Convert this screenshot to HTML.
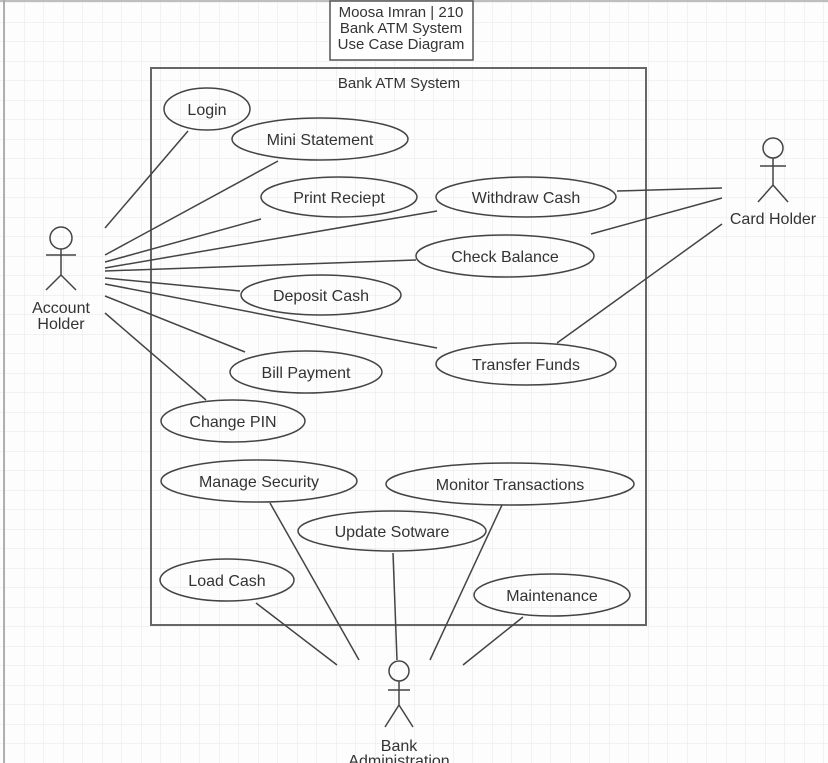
<!DOCTYPE html>
<html><head><meta charset="utf-8"><style>
html,body{margin:0;padding:0;background:#fff;}
svg{display:block;}
text{font-family:"Liberation Sans",sans-serif;fill:#333;}
</style></head><body>
<svg width="828" height="763" viewBox="0 0 828 763" xmlns="http://www.w3.org/2000/svg">
<defs>
<pattern id="g" width="19.5" height="19.5" patternUnits="userSpaceOnUse" x="5" y="3">
<path d="M19.5 0V19.5H0" fill="none" stroke="#e6e6e6" stroke-width="1"/>
</pattern>
</defs>
<rect width="828" height="763" fill="#fdfdfd"/>
<rect width="828" height="763" fill="url(#g)"/>
<line x1="4" y1="0" x2="4" y2="763" stroke="#999" stroke-width="1.5"/>
<line x1="0" y1="1" x2="828" y2="1" stroke="#aaa" stroke-width="1.5"/>

<rect x="330" y="1" width="143" height="59" fill="#fff" stroke="#555" stroke-width="1.5"/>
<g font-size="15" text-anchor="middle">
<text x="401" y="17">Moosa Imran | 210</text>
<text x="401" y="33">Bank ATM System</text>
<text x="401" y="49">Use Case Diagram</text>
</g>

<rect x="151" y="68" width="495" height="557" fill="none" stroke="#666" stroke-width="2"/>
<text x="399" y="88" font-size="15" text-anchor="middle">Bank ATM System</text>

<g stroke="#444" stroke-width="1.5" fill="none">
<line x1="105" y1="228" x2="188" y2="131"/>
<line x1="105" y1="255" x2="278" y2="161"/>
<line x1="105" y1="262" x2="261" y2="219"/>
<line x1="105" y1="268" x2="437" y2="211"/>
<line x1="105" y1="271" x2="416" y2="260"/>
<line x1="105" y1="278" x2="240" y2="291"/>
<line x1="105" y1="284" x2="437" y2="348"/>
<line x1="105" y1="296" x2="245" y2="352"/>
<line x1="105" y1="313" x2="206" y2="400"/>
<line x1="617" y1="191" x2="722" y2="188"/>
<line x1="591" y1="234" x2="722" y2="198"/>
<line x1="557" y1="343" x2="722" y2="224"/>
<line x1="256" y1="603" x2="337" y2="665"/>
<line x1="270" y1="503" x2="359" y2="660"/>
<line x1="393" y1="553" x2="397" y2="660"/>
<line x1="502" y1="505" x2="430" y2="660"/>
<line x1="523" y1="617" x2="463" y2="665"/>

<ellipse cx="207" cy="109" rx="43" ry="21"/>
<ellipse cx="320" cy="139" rx="88" ry="21"/>
<ellipse cx="339" cy="197" rx="78" ry="20"/>
<ellipse cx="526" cy="197" rx="90" ry="20"/>
<ellipse cx="505" cy="256" rx="89" ry="21"/>
<ellipse cx="321" cy="295" rx="80" ry="20"/>
<ellipse cx="526" cy="364" rx="90" ry="21"/>
<ellipse cx="306" cy="372" rx="76" ry="21"/>
<ellipse cx="233" cy="421" rx="72" ry="21"/>
<ellipse cx="259" cy="481" rx="98" ry="21"/>
<ellipse cx="510" cy="484" rx="124" ry="21"/>
<ellipse cx="392" cy="531" rx="94" ry="20"/>
<ellipse cx="227" cy="580" rx="67" ry="21"/>
<ellipse cx="552" cy="595" rx="78" ry="21"/>

<circle cx="61" cy="238" r="11"/>
<path d="M61 249V275M46 255H76M46 290L61 275L76 290"/>
<circle cx="773" cy="148" r="10"/>
<path d="M773 158V185M760 166H786M758 202L773 185L788 202"/>
<circle cx="399" cy="671" r="10"/>
<path d="M399 681V705M388 690H410M385 727L399 705L413 727"/>
</g>

<g font-size="16" text-anchor="middle">
<text x="207" y="115">Login</text>
<text x="320" y="145">Mini Statement</text>
<text x="339" y="203">Print Reciept</text>
<text x="526" y="203">Withdraw Cash</text>
<text x="505" y="262">Check Balance</text>
<text x="321" y="301">Deposit Cash</text>
<text x="526" y="370">Transfer Funds</text>
<text x="306" y="378">Bill Payment</text>
<text x="233" y="427">Change PIN</text>
<text x="259" y="487">Manage Security</text>
<text x="510" y="490">Monitor Transactions</text>
<text x="392" y="537">Update Sotware</text>
<text x="227" y="586">Load Cash</text>
<text x="552" y="601">Maintenance</text>
<text x="61" y="313">Account</text>
<text x="61" y="329">Holder</text>
<text x="773" y="224">Card Holder</text>
<text x="399" y="751">Bank</text>
<text x="399" y="766">Administration</text>
</g>
</svg>
</body></html>
